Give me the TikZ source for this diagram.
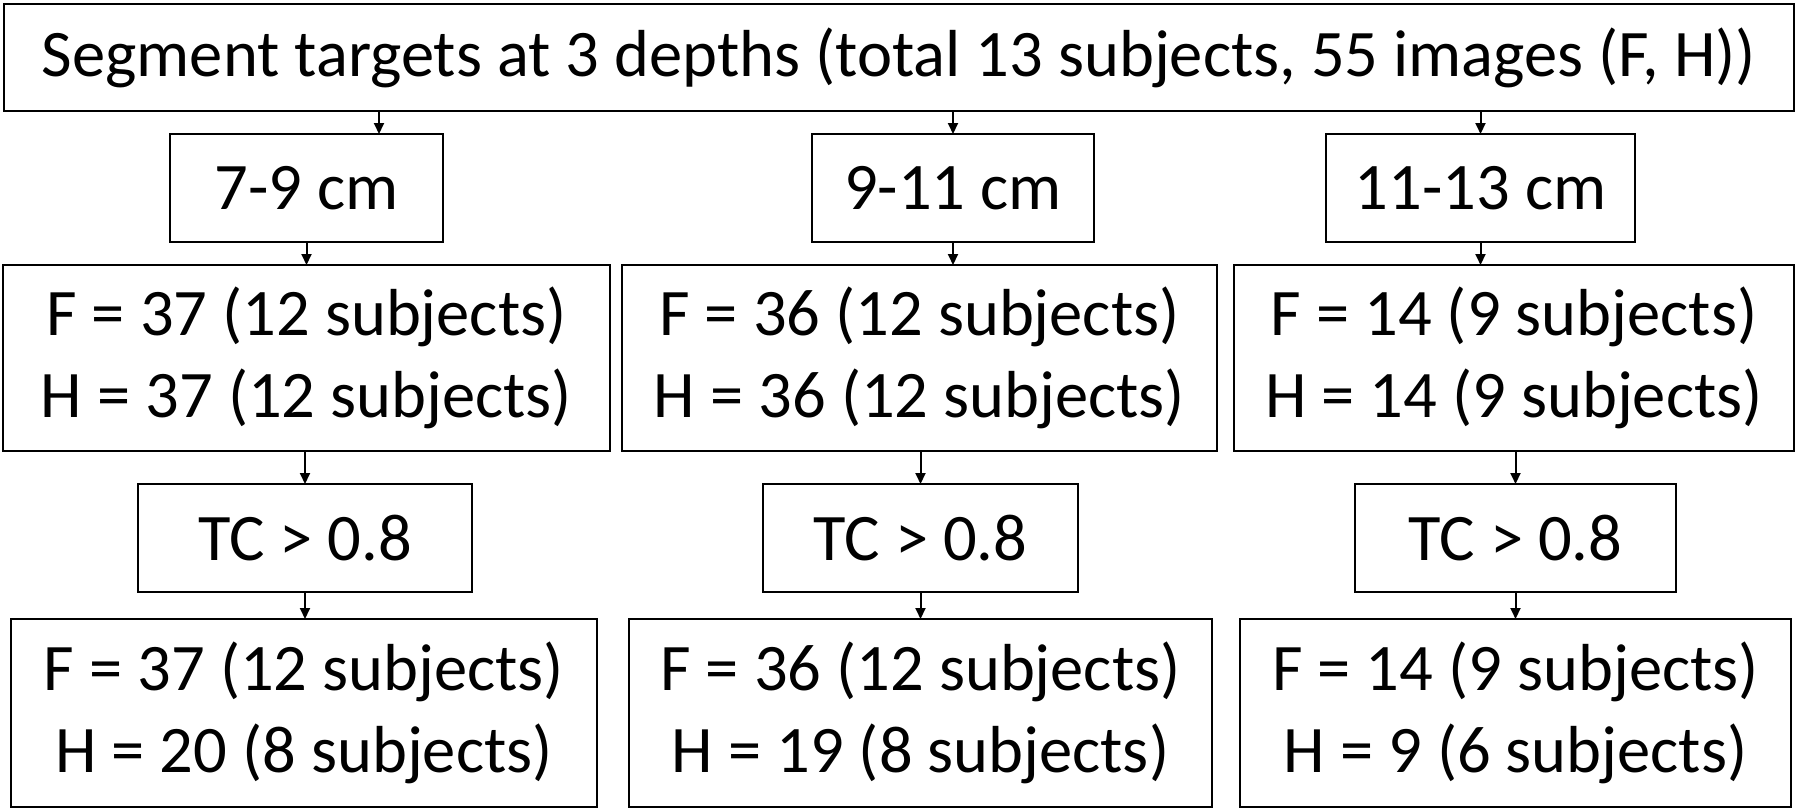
\documentclass[tikz,border=0pt]{standalone}
\usepackage{fontspec}
\setmainfont{Carlito}
\usetikzlibrary{arrows.meta,calc}
\begin{document}
\begin{tikzpicture}[x=1pt,y=-1pt,
  box/.style={draw=black,line width=2.4pt,rectangle,inner sep=0pt,outer sep=0pt,
    align=center,font=\fontsize{66.5}{81.5}\selectfont},
  arr/.style={line width=2pt,-{Triangle[length=11pt,width=10pt]}}]
\useasboundingbox (0,0) rectangle (1800,811);
\node[box,minimum width=1790,minimum height=107] (top) at (899,57.5) {Segment targets at 3 depths (total 13 subjects, 55 images (F, H))};
\node[box,minimum width=273,minimum height=108] (r1a) at (306.5,188) {7-9 cm};
\node[box,minimum width=282,minimum height=108] (r1b) at (953,188) {9-11 cm};
\node[box,minimum width=309,minimum height=108] (r1c) at (1480.5,188) {11-13 cm};
\node[box,minimum width=607,minimum height=186] (r2a) at (306.5,358) {F = 37 (12 subjects)\\H = 37 (12 subjects)};
\node[box,minimum width=595,minimum height=186] (r2b) at (919.5,358) {F = 36 (12 subjects)\\H = 36 (12 subjects)};
\node[box,minimum width=560,minimum height=186] (r2c) at (1514,358) {F = 14 (9 subjects)\\H = 14 (9 subjects)};
\node[box,minimum width=334,minimum height=108] (tca) at (305,538) {TC > 0.8};
\node[box,minimum width=315,minimum height=108] (tcb) at (920.5,538) {TC > 0.8};
\node[box,minimum width=321,minimum height=108] (tcc) at (1515.5,538) {TC > 0.8};
\node[box,minimum width=586,minimum height=188] (r4a) at (304,713) {F = 37 (12 subjects)\\H = 20 (8 subjects)};
\node[box,minimum width=583,minimum height=188] (r4b) at (920.5,713) {F = 36 (12 subjects)\\H = 19 (8 subjects)};
\node[box,minimum width=551,minimum height=188] (r4c) at (1515.5,713) {F = 14 (9 subjects)\\H = 9 (6 subjects)};
\coordinate (a1) at ([xshift=72.5pt]r1a.north);
\draw[arr] (a1 |- top.south) -- (a1);
\draw[arr] (r1b.north |- top.south) -- (r1b.north);
\draw[arr] (r1c.north |- top.south) -- (r1c.north);
\draw[arr] (r1a.south) -- (r1a.south |- r2a.north);
\draw[arr] (r1b.south) -- (r1b.south |- r2b.north);
\draw[arr] (r1c.south) -- (r1c.south |- r2c.north);
\draw[arr] (tca.north |- r2a.south) -- (tca.north);
\draw[arr] (tcb.north |- r2b.south) -- (tcb.north);
\draw[arr] (tcc.north |- r2c.south) -- (tcc.north);
\draw[arr] (tca.south) -- (tca.south |- r4a.north);
\draw[arr] (tcb.south) -- (tcb.south |- r4b.north);
\draw[arr] (tcc.south) -- (tcc.south |- r4c.north);
\end{tikzpicture}
\end{document}
